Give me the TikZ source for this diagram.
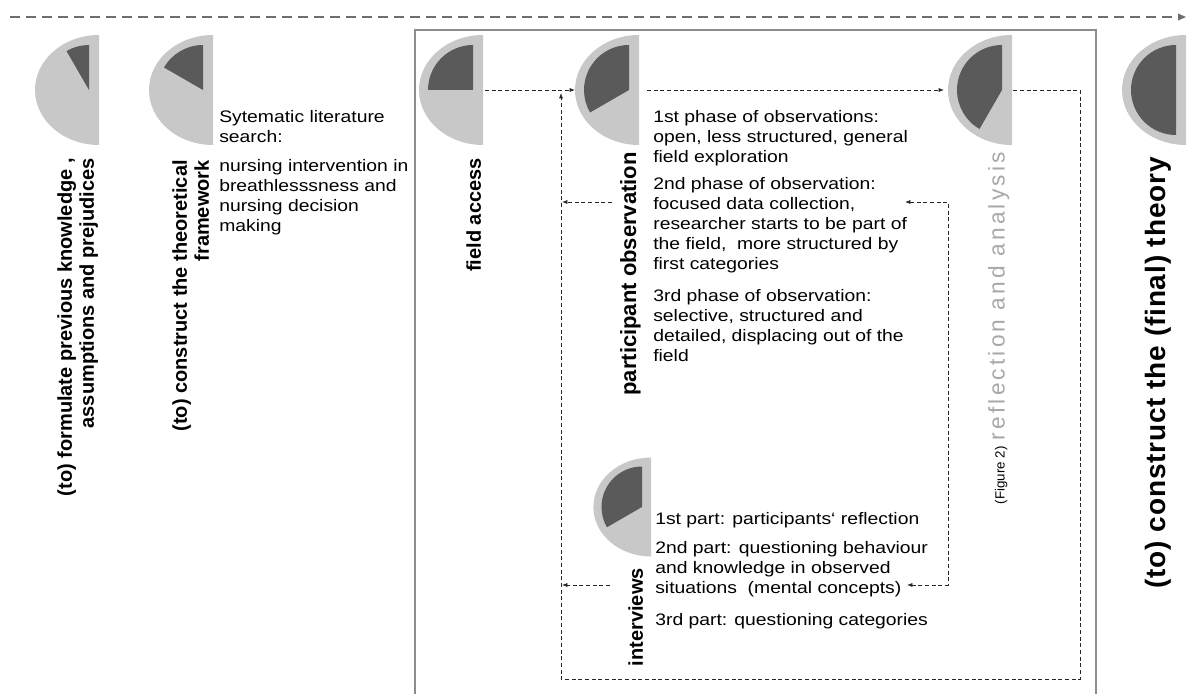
\documentclass[tikz,border=0pt]{standalone}
\usepackage{fontspec}
\setmainfont{Liberation Sans}
\usetikzlibrary{positioning,arrows.meta}

\definecolor{pielight}{HTML}{C8C8C8}
\definecolor{piedark}{HTML}{5A5A5A}
\definecolor{framegray}{HTML}{8C8C8C}
\definecolor{timegray}{HTML}{6E6E6E}
\definecolor{reflgray}{HTML}{A8A8A8}

% half pie: #2 = right edge centre, #3 = end angle of the dark part
\newcommand{\halfpie}[3][1]{%
  \fill[pielight] (#2) -- ++(0,55*#1) arc[start angle=90,end angle=270,x radius=64*#1,y radius=55*#1] -- cycle;
  \fill[piedark] ([xshift=-7.5pt*#1]#2) -- ++(0,45*#1) arc[start angle=90,end angle=#3,radius=45*#1] -- cycle;}

\tikzset{
  notes/.style={font=\fontsize{12.5}{15}\selectfont, xscale=1.16, align=left, anchor=north west, inner sep=0pt},
  phase/.style={font=\bfseries\fontsize{15}{16.5}\selectfont, rotate=90, align=right, anchor=north east, inner sep=0pt},
  flow/.style={densely dashed, line width=0.5pt, black!85},
  timeline/.style={timegray, line width=1.2pt, dash pattern=on 7.5pt off 4.5pt, -{Triangle[length=6pt,width=5pt]}}
}

\begin{document}
\begin{tikzpicture}[x=0.75pt,y=0.75pt,>={Latex[length=4pt,width=3pt]}]
  \useasboundingbox (0,0) rectangle (1190,694);

  \coordinate (tstart) at (10,677);
  \coordinate (tend) at (1186,677);
  \draw[timeline] (tstart) -- (tend);
  \draw[framegray, line width=1pt] (415,0) |- (1096,664) -- (1096,0);

  \coordinate (cf) at (99,604);
  \coordinate (ct) at (213,604);
  \coordinate (fa) at (483,604);
  \coordinate (po) at (639,604);
  \coordinate (ra) at (1012,604);
  \coordinate (ft) at (1186,604);
  \coordinate (iv) at (651,187);

  \halfpie{cf}{120}
  \halfpie{ct}{150}
  \halfpie{fa}{180}
  \halfpie{po}{210}
  \halfpie{ra}{240}
  \halfpie{ft}{270}
  \halfpie[0.9]{iv}{210}

  \node[phase] (cflabel) at (57,536) {(to) formulate previous knowledge ,\\assumptions and prejudices};
  \node[phase] (ctlabel) at (172,534) {(to) construct the theoretical\\framework};
  \node[phase] (falabel) at (466,536) {field access};
  \node[phase, font=\bfseries\fontsize{16.5}{18}\selectfont] (polabel) at (620,542) {participant observation};
  \node[phase] (ivlabel) at (628,126) {interviews};
  \node[phase, font=\fontsize{17}{19}\selectfont] (ralabel) at (988,542)
    {{\fontsize{10}{11}\selectfont(Figure 2)} \textcolor{reflgray}{\addfontfeatures{LetterSpace=14}reflection and analysis}};
  \node[phase, font=\bfseries\fontsize{21}{23}\selectfont] (ftlabel) at (1145,537)
    {\addfontfeatures{LetterSpace=3}(to) construct the (final) theory};

  \node[notes] (sys1) at (219,584) {Sytematic literature\\search:};
  \node[notes, below=12pt of sys1.south west, anchor=north west] (sys2) {nursing intervention in\\breathlesssness and\\nursing decision\\making};

  \node[notes] (obs1) at (653,584) {1st phase of observations:\\open, less structured, general\\field exploration};
  \node[notes, below=8.5pt of obs1.south west, anchor=north west] (obs2) {2nd phase of observation:\\focused data collection,\\researcher starts to be part of\\the field,\ \ more structured by\\first categories};
  \node[notes, below=11.5pt of obs2.south west, anchor=north west] (obs3) {3rd phase of observation:\\selective, structured and\\detailed, displacing out of the\\field};

  \node[notes] (iv1) at (655,182) {1st part: participants‘ reflection};
  \node[notes, below=9.5pt of iv1.south west, anchor=north west] (iv2) {2nd part: questioning behaviour\\and knowledge in observed\\situations\ \ (mental concepts)};
  \node[notes, below=12.5pt of iv2.south west, anchor=north west] (iv3) {3rd part: questioning categories};

  % loops
  \coordinate (loopBR) at (1080,15);
  \coordinate (loopBL) at (561,15);
  \coordinate (loopTop) at (561,601);
  \coordinate (obsback) at (905,492);
  \coordinate (innerBR) at (948,109);
  \coordinate (ivback) at (907,109);
  \coordinate (obsout) at (612,492);
  \coordinate (obsin) at (562,492);
  \coordinate (ivout) at (610,109);
  \coordinate (ivin) at (562,109);

  \draw[flow,->] ([xshift=1.5pt]fa) -- ([xshift=-48pt]po);
  \draw[flow,->] ([xshift=6pt]po) -- ([xshift=-51pt]ra);
  \draw[flow,->] ([xshift=1pt]ra) -| (loopBR) -- (loopBL) -- (loopTop);
  \draw[flow,<->] (obsback) -| (innerBR) -- (ivback);
  \draw[flow,->] (obsout) -- (obsin);
  \draw[flow,->] (ivout) -- (ivin);

\end{tikzpicture}
\end{document}
